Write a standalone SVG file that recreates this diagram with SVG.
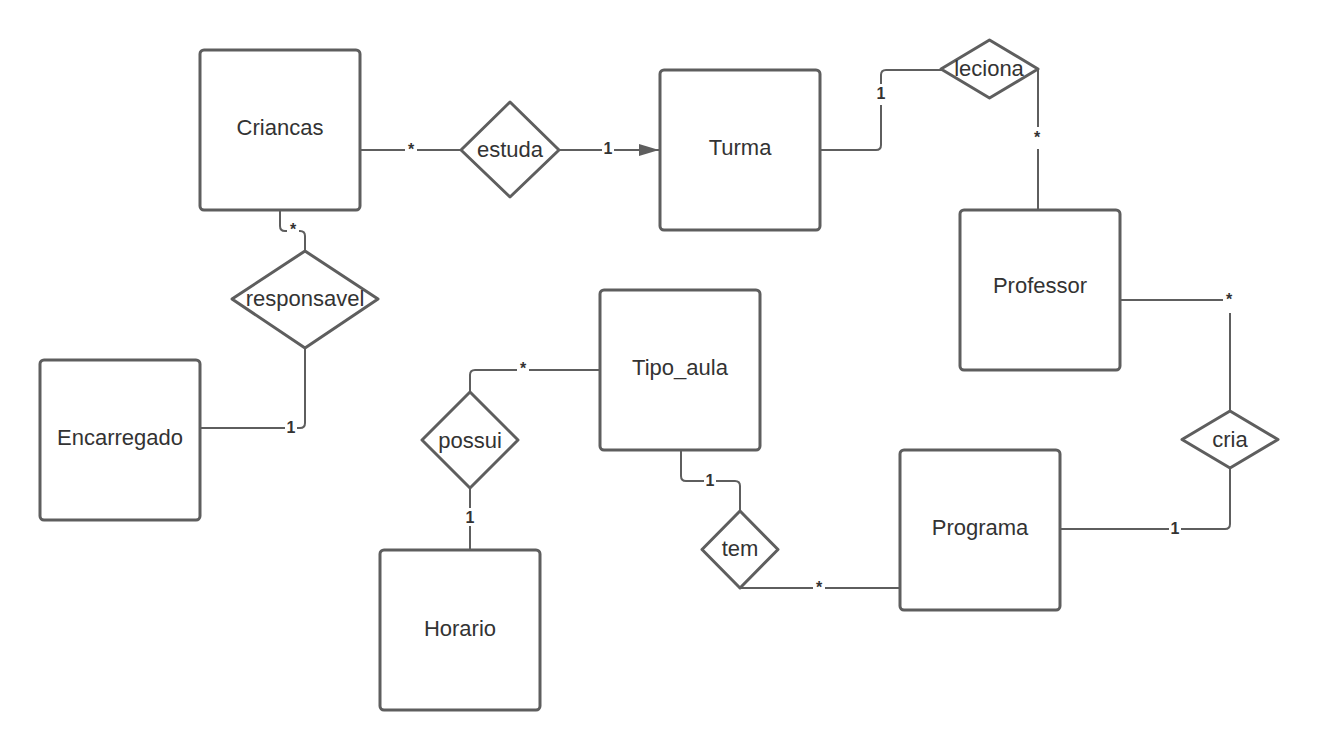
<svg xmlns="http://www.w3.org/2000/svg" width="1320" height="750" viewBox="0 0 1320 750">
  <defs>
    <style>
      .entity { fill: #ffffff; stroke: #5e5e5e; stroke-width: 3; }
      .rel { fill: #ffffff; stroke: #5e5e5e; stroke-width: 3; stroke-linejoin: round; }
      .name { font-family: "Liberation Sans", Arial, sans-serif; font-size: 22px; fill: #333333; text-anchor: middle; dominant-baseline: central; }
      .wire { fill: none; stroke: #5e5e5e; stroke-width: 2; }
      .mult { font-family: "Liberation Sans", Arial, sans-serif; font-size: 16px; font-weight: bold; fill: #333333; text-anchor: middle; }
      .mbg { fill: #ffffff; }
    </style>
    <marker id="arrow" viewBox="0 0 20 12" refX="20" refY="6" markerWidth="20" markerHeight="12" markerUnits="userSpaceOnUse" orient="auto">
      <path d="M0,0 L20,6 L0,12 Z" fill="#5e5e5e"/>
    </marker>
  </defs>
  <rect width="1320" height="750" fill="#ffffff"/>

  <!-- connectors -->
  <g id="connectors">
    <path class="wire" d="M360,150 H461"/>
    <path class="wire" d="M559,150 H659" marker-end="url(#arrow)"/>
    <path class="wire" d="M820,150 H876 Q881,150 881,145 V75 Q881,70 886,70 H942"/>
    <path class="wire" d="M1038,69 V209"/>
    <path class="wire" d="M1120,300 H1230 V411"/>
    <path class="wire" d="M1230,468 V524 Q1230,529 1225,529 H1060"/>
    <path class="wire" d="M740,588 H900"/>
    <path class="wire" d="M681,450 V476 Q681,481 686,481 H735 Q740,481 740,486 V511"/>
    <path class="wire" d="M600,370 H475 Q470,370 470,375 V392"/>
    <path class="wire" d="M470,488 V550"/>
    <path class="wire" d="M280,210 V226 Q280,231 285,231 H300 Q305,231 305,236 V251"/>
    <path class="wire" d="M305,348 V423 Q305,428 300,428 H200"/>

    <!-- multiplicities -->
    <rect class="mbg" x="405" y="140" width="12" height="18"/><text class="mult" x="411" y="155">*</text>
    <rect class="mbg" x="602" y="139" width="12" height="18"/><text class="mult" x="608" y="154">1</text>
    <rect class="mbg" x="875" y="84" width="12" height="21"/><text class="mult" x="881" y="99">1</text>
    <rect class="mbg" x="1031" y="127" width="12" height="22"/><text class="mult" x="1037" y="143">*</text>
    <rect class="mbg" x="1223" y="290" width="12" height="23"/><text class="mult" x="1229" y="305">*</text>
    <rect class="mbg" x="1169" y="519" width="12" height="18"/><text class="mult" x="1175" y="534">1</text>
    <rect class="mbg" x="813" y="578" width="12" height="18"/><text class="mult" x="819" y="593">*</text>
    <rect class="mbg" x="704" y="471" width="12" height="18"/><text class="mult" x="710" y="486">1</text>
    <rect class="mbg" x="517" y="359" width="12" height="18"/><text class="mult" x="523" y="374">*</text>
    <rect class="mbg" x="464" y="508" width="12" height="18"/><text class="mult" x="470" y="523">1</text>
    <rect class="mbg" x="287" y="220" width="12" height="18"/><text class="mult" x="293" y="235">*</text>
    <rect class="mbg" x="285" y="418" width="12" height="18"/><text class="mult" x="291" y="433">1</text>
  </g>

  <!-- entities -->
  <g id="criancas">
    <rect class="entity" x="200" y="50" width="160" height="160" rx="4"/>
    <text class="name" x="280" y="127">Criancas</text>
  </g>
  <g id="turma">
    <rect class="entity" x="660" y="70" width="160" height="160" rx="4"/>
    <text class="name" x="740" y="147">Turma</text>
  </g>
  <g id="professor">
    <rect class="entity" x="960" y="210" width="160" height="160" rx="4"/>
    <text class="name" x="1040" y="285">Professor</text>
  </g>
  <g id="encarregado">
    <rect class="entity" x="40" y="360" width="160" height="160" rx="4"/>
    <text class="name" x="120" y="437">Encarregado</text>
  </g>
  <g id="tipo_aula">
    <rect class="entity" x="600" y="290" width="160" height="160" rx="4"/>
    <text class="name" x="680" y="367">Tipo_aula</text>
  </g>
  <g id="programa">
    <rect class="entity" x="900" y="450" width="160" height="160" rx="4"/>
    <text class="name" x="980" y="527">Programa</text>
  </g>
  <g id="horario">
    <rect class="entity" x="380" y="550" width="160" height="160" rx="4"/>
    <text class="name" x="460" y="628">Horario</text>
  </g>

  <!-- relationships -->
  <g id="estuda">
    <polygon class="rel" points="510,102 559,150 510,197 461,150"/>
    <text class="name" x="510" y="149">estuda</text>
  </g>
  <g id="leciona">
    <polygon class="rel" points="989.5,40 1038,69 989.5,98 941,69"/>
    <text class="name" x="989" y="68">leciona</text>
  </g>
  <g id="responsavel">
    <polygon class="rel" points="305,251 378,299 305,348 232,299"/>
    <text class="name" x="305" y="298">responsavel</text>
  </g>
  <g id="possui">
    <polygon class="rel" points="470,392 518,440 470,488 422,440"/>
    <text class="name" x="470" y="440">possui</text>
  </g>
  <g id="tem">
    <polygon class="rel" points="740,511 778,549.5 740,588 702,549.5"/>
    <text class="name" x="740" y="548">tem</text>
  </g>
  <g id="cria">
    <polygon class="rel" points="1230,411 1278,439.5 1230,468 1182,439.5"/>
    <text class="name" x="1230" y="439">cria</text>
  </g>
</svg>
